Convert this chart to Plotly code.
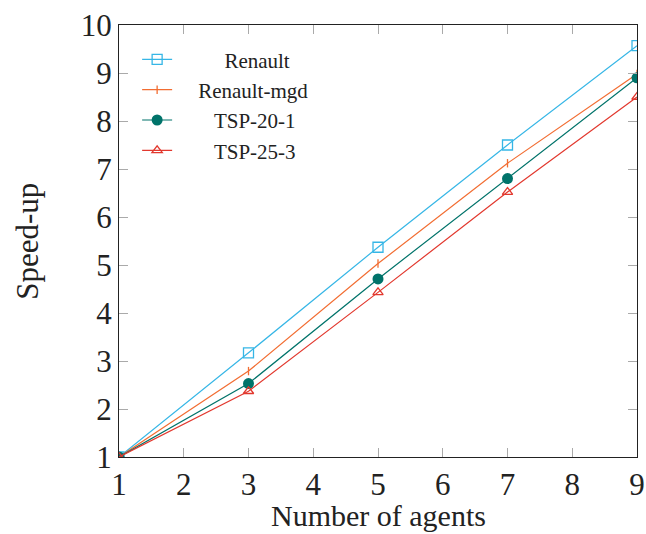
import plotly.graph_objects as go

# Speed-up measured for each instance as the number of agents grows
agents = [1, 3, 5, 7, 9]
renault = [1.0, 3.17, 5.37, 7.5, 9.57]
renault_mgd = [1.0, 2.79, 5.03, 7.12, 8.98]
tsp_20_1 = [1.0, 2.53, 4.71, 6.8, 8.9]
tsp_25_3 = [1.0, 2.37, 4.43, 6.52, 8.5]

x_ticks = [1, 2, 3, 4, 5, 6, 7, 8, 9]
y_ticks = [1, 2, 3, 4, 5, 6, 7, 8, 9, 10]

# Legend labels are padded with non-breaking spaces so they sit centred in their column
NB = "\u00a0"
series = [
    ("Renault", NB * 9 + "Renault", "#36b6e6", dict(symbol="square-open", size=10, line=dict(width=1.3))),
    ("Renault-mgd", NB * 4 + "Renault-mgd", "#f26d32", dict(symbol="line-ns-open", size=6, line=dict(width=1.3))),
    ("TSP-20-1", NB * 7 + "TSP-20-1", "#00736a", dict(symbol="circle", size=11)),
    ("TSP-25-3", NB * 7 + "TSP-25-3", "#e2382e", dict(symbol="triangle-up-open", size=9, line=dict(width=1.3))),
]
values = {"Renault": renault, "Renault-mgd": renault_mgd, "TSP-20-1": tsp_20_1, "TSP-25-3": tsp_25_3}

font_family = "Liberation Serif"
ink = "#222222"

fig = go.Figure()
for i, (key, label, color, marker) in enumerate(series):
    mk = dict(marker)
    mk["color"] = color
    if "line" in mk:
        mk["line"] = dict(mk["line"], color=color)
    fig.add_trace(go.Scatter(
        x=agents, y=values[key], name=label, mode="lines+markers",
        line=dict(color=color, width=1.2),
        marker=mk,
        legendgroup=f"g{i}",
    ))

axis_common = dict(
    showline=True, linecolor=ink, linewidth=1.3, mirror="allticks",
    ticks="inside", ticklen=9, tickwidth=1, tickcolor="#aaaaaa",
    showgrid=False, zeroline=False, automargin=False,
    tickfont=dict(family=font_family, size=31, color=ink),
)

fig.update_layout(
    width=646, height=534,
    margin=dict(l=119, r=9, t=25, b=77),
    paper_bgcolor="white", plot_bgcolor="white",
    font=dict(family=font_family, color=ink),
    showlegend=True,
    legend=dict(
        x=0.035, y=0.967, xanchor="left", yanchor="top",
        bgcolor="rgba(255,255,255,0)", borderwidth=0,
        font=dict(family=font_family, size=21, color=ink),
        traceorder="grouped", tracegroupgap=0,
    ),
    xaxis=dict(axis_common, range=[1, 9], tickvals=x_ticks),
    yaxis=dict(axis_common, range=[1, 10], tickvals=y_ticks),
    annotations=[
        dict(text="Number of agents", xref="paper", yref="paper", x=0.5, y=-0.136,
             xanchor="center", yanchor="middle", showarrow=False,
             font=dict(family=font_family, size=30, color=ink)),
        dict(text="Speed-up", xref="paper", yref="paper", x=-0.178, y=0.5,
             xanchor="center", yanchor="middle", showarrow=False, textangle=-90,
             font=dict(family=font_family, size=31, color=ink)),
    ],
)

fig.write_html("out.html")
